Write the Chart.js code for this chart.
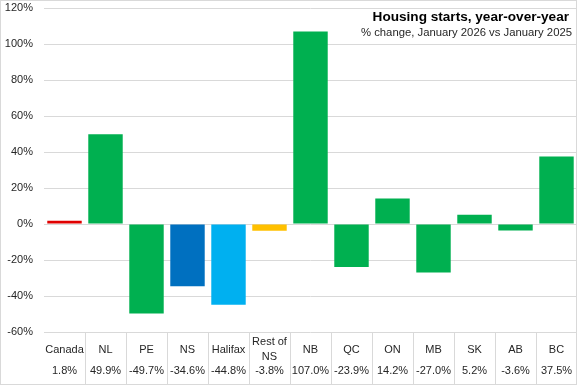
<!DOCTYPE html>
<html>
<head>
<meta charset="utf-8">
<script src="https://cdn.jsdelivr.net/npm/chart.js@4"></script>
<style>
html,body{margin:0;padding:0;background:#fff;}
#wrap{position:relative;width:577px;height:385px;box-sizing:border-box;}
canvas{display:block;}
</style>
</head>
<body>
<div id="wrap"><canvas id="c" width="577" height="385"></canvas></div>
<script>
const categories = ['Canada','NL','PE','NS','Halifax','Rest of NS','NB','QC','ON','MB','SK','AB','BC'];
const categoryLines = [['Canada'],['NL'],['PE'],['NS'],['Halifax'],['Rest of','NS'],['NB'],['QC'],['ON'],['MB'],['SK'],['AB'],['BC']];
const values = [1.8, 49.9, -49.7, -34.6, -44.8, -3.8, 107.0, -23.9, 14.2, -27.0, 5.2, -3.6, 37.5];
const valueLabels = ['1.8%','49.9%','-49.7%','-34.6%','-44.8%','-3.8%','107.0%','-23.9%','14.2%','-27.0%','5.2%','-3.6%','37.5%'];
const barColors = ['#E00000','#00B050','#00B050','#0070C0','#00B0F0','#FFC000','#00B050','#00B050','#00B050','#00B050','#00B050','#00B050','#00B050'];
const yMin = -60, yMax = 120, yStep = 20;
const titleText = 'Housing starts, year-over-year';
const subtitleText = '% change, January 2026 vs January 2025';

const FONT = '"Liberation Sans", Arial, sans-serif';
const GRID = '#d9d9d9';

const tablePlugin = {
  id: 'tablePlugin',
  afterDraw(chart) {
    const ctx = chart.ctx;
    const xs = chart.scales.x;
    const area = chart.chartArea;
    const n = categories.length;
    const w = (area.right - area.left) / n;
    ctx.save();
    ctx.strokeStyle = GRID;
    ctx.lineWidth = 1;
    ctx.beginPath();
    for (let i = 1; i < n; i++) {
      const x = Math.round(area.left + w * i) + 0.5;
      ctx.moveTo(x, area.bottom);
      ctx.lineTo(x, 385);
    }
    ctx.stroke();
    ctx.fillStyle = '#262626';
    ctx.font = '11px ' + FONT;
    ctx.textAlign = 'center';
    ctx.textBaseline = 'middle';
    for (let i = 0; i < n; i++) {
      const cx = xs.getPixelForValue(i);
      const lines = categoryLines[i];
      if (lines.length === 1) {
        ctx.fillText(lines[0], cx, 350);
      } else {
        ctx.fillText(lines[0], cx, 342);
        ctx.fillText(lines[1], cx, 357);
      }
      ctx.fillText(valueLabels[i], cx, 371);
    }
    ctx.textAlign = 'right';
    ctx.fillStyle = '#000';
    ctx.font = 'bold 13.6px ' + FONT;
    ctx.fillText(titleText, 569, 17);
    ctx.fillStyle = '#262626';
    ctx.font = '11.3px ' + FONT;
    ctx.fillText(subtitleText, 572, 33);
    ctx.strokeStyle = GRID;
    ctx.strokeRect(0.5, 0.5, 576, 384);
    ctx.restore();
  }
};

new Chart(document.getElementById('c'), {
  type: 'bar',
  data: {
    labels: categories,
    datasets: [{
      data: values,
      backgroundColor: barColors,
      borderWidth: 0,
      categoryPercentage: 1.0,
      barPercentage: 0.84
    }]
  },
  options: {
    responsive: false,
    animation: false,
    layout: { padding: { left: 0, right: 0, top: 8, bottom: 53 } },
    plugins: { legend: { display: false }, tooltip: { enabled: false }, title: { display: false } },
    scales: {
      x: { display: false, offset: true },
      y: {
        min: yMin, max: yMax,
        afterFit(scale) { scale.width = 44; scale.paddingTop = 0; scale.paddingBottom = 0; },
        ticks: {
          stepSize: yStep,
          padding: 11,
          color: '#262626',
          font: { family: FONT, size: 11 },
          callback: v => v + '%'
        },
        grid: { color: GRID, drawTicks: false, lineWidth: 1 },
        border: { display: false }
      }
    }
  },
  plugins: [tablePlugin]
});
</script>
</body>
</html>
